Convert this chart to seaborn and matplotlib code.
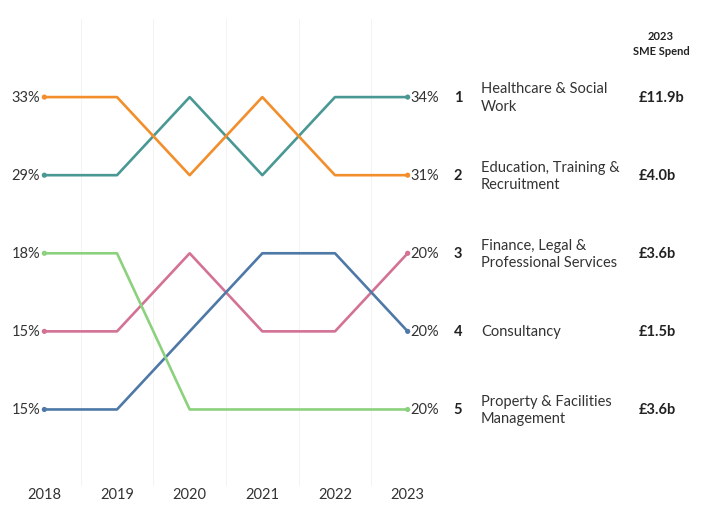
import pandas as pd
import matplotlib
import matplotlib.pyplot as plt
import seaborn as sns

# ranking data
years = [2018, 2019, 2020, 2021, 2022, 2023]
sectors = ['Healthcare & Social\nWork',
           'Education, Training &\nRecruitment',
           'Finance, Legal &\nProfessional Services',
           'Consultancy',
           'Property & Facilities\nManagement']
ranks_health = [2, 2, 1, 2, 1, 1]
ranks_education = [1, 1, 2, 1, 2, 2]
ranks_finance = [4, 4, 3, 4, 4, 3]
ranks_consult = [5, 5, 4, 3, 3, 4]
ranks_property = [3, 3, 5, 5, 5, 5]
share_2018 = ['29%', '33%', '15%', '15%', '18%']
share_2023 = ['34%', '31%', '20%', '20%', '20%']
spend_2023 = ['£11.9b', '£4.0b', '£3.6b', '£1.5b', '£3.6b']
colors = ['#499894', '#F28E2B', '#D37295', '#4E79A7', '#8CD17D']


def main():
  sns.set_style('white')
  matplotlib.rc('font', family=['Lato', 'DejaVu Sans'])

  all_ranks = [ranks_health, ranks_education, ranks_finance, ranks_consult, ranks_property]
  rows = []
  for name, rk in zip(sectors, all_ranks):
    for yr, r in zip(years, rk):
      rows.append({'year': yr, 'rank': r, 'sector': name})
  df = pd.DataFrame(rows)
  palette = dict(zip(sectors, colors))
  ends = df[df['year'].isin([years[0], years[-1]])]

  fig = plt.figure(figsize=(7.03, 5.06), dpi=100)
  ax = fig.add_axes([8 / 703, 19 / 506, 436 / 703, 467 / 506])

  for g in range(len(years)):
    ax.axvline(years[0] + g + 0.5, color='#f3f3f3', lw=0.7, zorder=0)

  sns.lineplot(data=df, x='year', y='rank', hue='sector', palette=palette,
               linewidth=1.9, legend=False, ax=ax, zorder=3)
  sns.scatterplot(data=ends, x='year', y='rank', hue='sector', palette=palette,
                  s=14, linewidth=0, legend=False, ax=ax, zorder=4)

  ax.set_xlim(years[0] - 0.5, years[-1] + 0.5)
  ax.set_ylim(5.98, 0)
  ax.set_xticks(years)
  ax.set_xticklabels([str(y) for y in years], fontsize=10.5, color='#333333')
  ax.set_yticks([])
  ax.tick_params(axis='x', length=0, pad=1)
  ax.set_xlabel('')
  ax.set_ylabel('')
  for s in ax.spines.values():
    s.set_visible(False)

  # percentage labels at both ends
  for name, rk, a, b in zip(sectors, all_ranks, share_2018, share_2023):
    ax.annotate(a, (years[0], rk[0]), xytext=(-3, 0), textcoords='offset points',
                ha='right', va='center', fontsize=10.5, color='#333333')
    ax.annotate(b, (years[-1], rk[-1]), xytext=(2, 0), textcoords='offset points',
                ha='left', va='center', fontsize=10.5, color='#333333')

  # right-hand table
  for name, rk, sp in zip(sectors, all_ranks, spend_2023):
    r = rk[-1]
    ax.annotate(str(r), (458, r), xycoords=('figure pixels', 'data'),
                ha='center', va='center', fontsize=10.5, fontweight='bold', color='#222222')
    ax.annotate(name, (481, r), xycoords=('figure pixels', 'data'),
                ha='left', va='center', fontsize=10.5, color='#333333', linespacing=1.3)
    ax.annotate(sp, (639, r), xycoords=('figure pixels', 'data'),
                ha='left', va='center', fontsize=10.5, fontweight='bold', color='#222222')

  fig.text(661 / 703, 1 - 44 / 506, '2023\nSME Spend', ha='center', va='center',
           fontsize=8, fontweight='bold', color='#222222', linespacing=1.45)

  plt.savefig('out.png', dpi=100)


if __name__ == '__main__':
  main()
